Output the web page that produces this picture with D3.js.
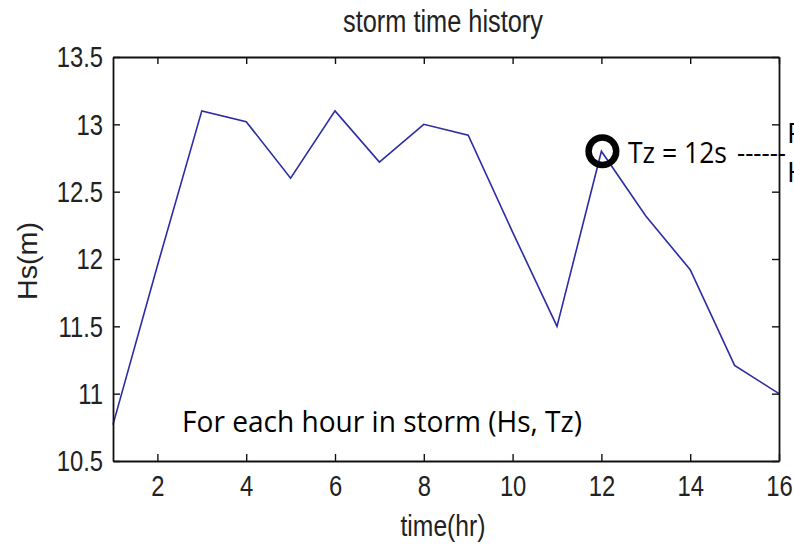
<!DOCTYPE html>
<html><head><meta charset="utf-8">
<script src="https://cdn.jsdelivr.net/npm/d3@7"></script>
<style>
html,body{margin:0;padding:0;background:#fff;overflow:hidden;}
svg{display:block;}
.mat{font-family:"Liberation Sans",Arial,sans-serif;fill:#222;}
.cal{font-family:"Open Sans","Liberation Sans",sans-serif;fill:#000;}
</style></head><body>
<script>
const hours = [1,2,3,4,5,6,7,8,9,10,11,12,13,14,15,16];
const hs = [10.77,11.95,13.1,13.02,12.6,13.1,12.72,13.0,12.92,12.2,11.5,12.8,12.32,11.92,11.21,11.0];
const xTicks = [2,4,6,8,10,12,14,16];
const yTicks = [10.5,11,11.5,12,12.5,13,13.5];
const titleText = "storm time history";
const xLabel = "time(hr)";
const yLabel = "Hs(m)";
const markHour = 12;
const markLabel = "Tz = 12s";
const noteText = "For each hour in storm (Hs, Tz)";

const W=794,H=545;
const L=113,R=779,T=57,B=461;
const svg=d3.select("body").append("svg").attr("width",W).attr("height",H);
const x=d3.scaleLinear().domain([1,16]).range([L,R]);
const y=d3.scaleLinear().domain([10.5,13.5]).range([B,T]);

function condense(sel,k){
  sel.each(function(){
    const w=this.getComputedTextLength();
    d3.select(this).attr("textLength",w*k).attr("lengthAdjust","spacingAndGlyphs");
  });
}
function fitW(sel,w){ sel.attr("textLength",w).attr("lengthAdjust","spacingAndGlyphs"); }

// data line
svg.append("path").datum(hours.map((h,i)=>[h,hs[i]]))
  .attr("fill","none").attr("stroke","#2b2ba6").attr("stroke-width",1.6)
  .attr("d",d3.line().x(d=>x(d[0])).y(d=>y(d[1])));

// axes with inward ticks (MATLAB style)
const tl=7;
const fmt=d=>String(d);
const gB=svg.append("g").attr("transform",`translate(0,${B})`)
  .call(d3.axisBottom(x).tickValues(xTicks).tickSizeInner(-tl).tickSizeOuter(0).tickPadding(14).tickFormat(fmt));
const gT=svg.append("g").attr("transform",`translate(0,${T})`)
  .call(d3.axisTop(x).tickValues(xTicks).tickSizeInner(-tl).tickSizeOuter(0).tickFormat(""));
const gL=svg.append("g").attr("transform",`translate(${L},0)`)
  .call(d3.axisLeft(y).tickValues(yTicks).tickSizeInner(-tl).tickSizeOuter(0).tickPadding(10).tickFormat(fmt));
const gR=svg.append("g").attr("transform",`translate(${R},0)`)
  .call(d3.axisRight(y).tickValues(yTicks).tickSizeInner(-tl).tickSizeOuter(0).tickFormat(""));
[gB,gT,gL,gR].forEach(g=>{
  g.select(".domain").attr("stroke","#111").attr("stroke-width",1.8);
  g.selectAll(".tick line").attr("stroke","#111").attr("stroke-width",1.4);
  g.selectAll(".tick text").attr("class","mat").attr("font-size",29).attr("fill","#222");
});
gL.selectAll(".tick text").attr("dy","0.34em");
condense(gB.selectAll(".tick text"),0.82);
condense(gL.selectAll(".tick text"),0.82);

// titles
svg.append("text").attr("class","mat").attr("x",443).attr("y",32).attr("text-anchor","middle").attr("font-size",31).text(titleText).call(fitW,200);
svg.append("text").attr("class","mat").attr("x",443).attr("y",536).attr("text-anchor","middle").attr("font-size",30).text(xLabel).call(fitW,85);
svg.append("text").attr("class","mat").attr("transform",`translate(37,261) rotate(-90)`).attr("text-anchor","middle").attr("font-size",27).text(yLabel).call(fitW,78);

// annotation
const mi=hours.indexOf(markHour);
const cx=x(markHour), cy=y(hs[mi]);
svg.append("circle").attr("cx",cx+1).attr("cy",cy).attr("r",13.8).attr("fill","none").attr("stroke","#000").attr("stroke-width",6.5);
svg.append("text").attr("class","cal").attr("x",628).attr("y",163).attr("font-size",29).text(markLabel).call(fitW,99);
svg.append("text").attr("class","cal").attr("x",737).attr("y",162).attr("font-size",28).text("------").call(fitW,49);
svg.append("text").attr("class","cal").attr("x",787).attr("y",143).attr("font-size",28).text("F");
svg.append("text").attr("class","cal").attr("x",787).attr("y",182).attr("font-size",28).text("H");
svg.append("text").attr("class","cal").attr("x",182).attr("y",432).attr("font-size",30).text(noteText).call(fitW,400);
</script>
</body></html>
